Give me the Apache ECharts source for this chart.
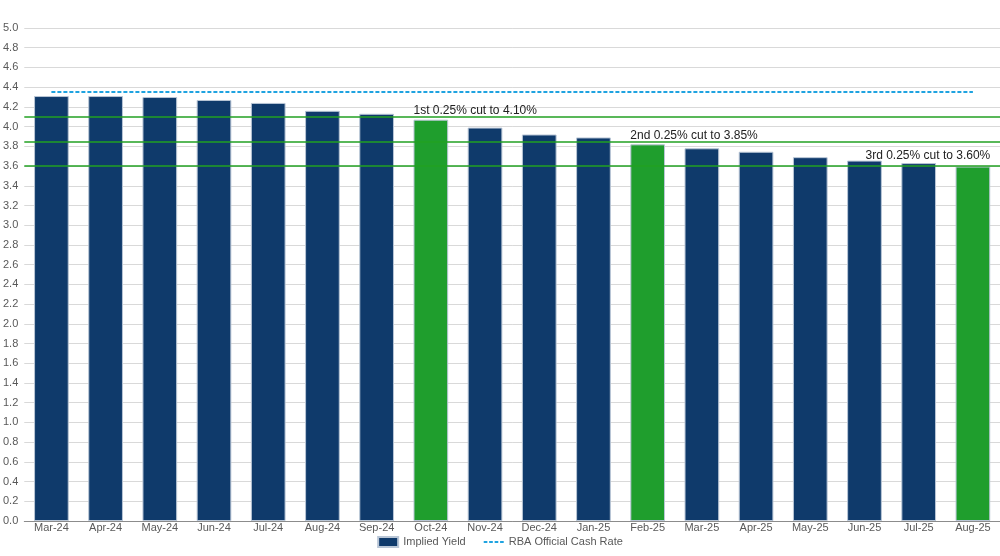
<!DOCTYPE html>
<html>
<head>
  <meta charset="utf-8">
  <script src="https://cdn.jsdelivr.net/npm/echarts@6/dist/echarts.min.js"></script>
  <style>
    html, body { margin: 0; padding: 0; background: #fff; }
    #main { width: 1000px; height: 556px; }
  </style>
</head>
<body>
<div id="main"></div>
<script>
  // chart data
  var months = ['Mar-24', 'Apr-24', 'May-24', 'Jun-24', 'Jul-24', 'Aug-24', 'Sep-24', 'Oct-24', 'Nov-24',
                'Dec-24', 'Jan-25', 'Feb-25', 'Mar-25', 'Apr-25', 'May-25', 'Jun-25', 'Jul-25', 'Aug-25'];
  var impliedYield = [4.31, 4.31, 4.30, 4.27, 4.24, 4.16, 4.13, 4.07, 3.99,
                      3.92, 3.89, 3.82, 3.78, 3.745, 3.69, 3.655, 3.63, 3.595];
  var cashRate = [4.35, 4.35, 4.35, 4.35, 4.35, 4.35, 4.35, 4.35, 4.35,
                  4.35, 4.35, 4.35, 4.35, 4.35, 4.35, 4.35, 4.35, 4.35];
  var cutMonths = ['Oct-24', 'Feb-25', 'Aug-25'];
  var cutLevels = [4.10, 3.85, 3.60];
  var cutLabels = ['1st 0.25% cut to 4.10%', '2nd 0.25% cut to 3.85%', '3rd 0.25% cut to 3.60%'];

  var navy = '#0f3a6b';
  var green = '#1f9e2d';
  var blue = '#1fa3e0';

  var barData = impliedYield.map(function (v, i) {
    var k = cutMonths.indexOf(months[i]);
    if (k < 0) return v;
    var last = k === cutMonths.length - 1;
    return {
      value: v,
      itemStyle: { color: green },
      label: {
        show: true,
        formatter: cutLabels[k],
        position: last ? ['100%', -11] : [0, -9],
        align: last ? 'right' : 'left',
        verticalAlign: 'middle',
        color: '#222',
        fontSize: 12,
        fontFamily: 'Liberation Sans, Arial, sans-serif'
      }
    };
  });

  var chart = echarts.init(document.getElementById('main'));
  chart.setOption({
    animation: false,
    textStyle: { fontFamily: 'Liberation Sans, Arial, sans-serif' },
    grid: { left: 22, right: 0, top: 28, bottom: 35 },
    legend: {
      bottom: 3,
      left: 'center',
      itemGap: 18,
      itemWidth: 20,
      itemHeight: 10,
      textStyle: { color: '#595959', fontSize: 11 },
      data: [
        { name: 'Implied Yield', icon: 'rect' },
        { name: 'RBA Official Cash Rate',
          icon: 'path://M0,0h4v2h-4z M6,0h4v2h-4z M12,0h4v2h-4z M18,0h4v2h-4z',
          itemStyle: { color: blue } }
      ]
    },
    xAxis: {
      type: 'category',
      data: months,
      axisTick: { show: false },
      axisLine: { lineStyle: { color: '#8c8c8c', width: 1 } },
      axisLabel: { color: '#595959', fontSize: 11, margin: 1, interval: 0 }
    },
    yAxis: {
      type: 'value',
      min: 0,
      max: 5,
      interval: 0.2,
      axisLine: { show: false },
      axisTick: { show: false },
      splitLine: { lineStyle: { color: '#d9d9d9' } },
      axisLabel: {
        color: '#595959', fontSize: 11, margin: 6,
        formatter: function (v) { return v.toFixed(1); }
      }
    },
    series: [
      {
        name: 'Implied Yield',
        type: 'bar',
        data: barData,
        barCategoryGap: '36%',
        itemStyle: { color: navy, borderColor: '#b9c6d6', borderWidth: 1 },
        markLine: {
          silent: true,
          symbol: 'none',
          label: { show: false },
          lineStyle: { color: '#22a022', type: 'solid', width: 1.5 },
          data: cutLevels.map(function (v) { return { yAxis: v }; })
        }
      },
      {
        name: 'RBA Official Cash Rate',
        type: 'line',
        data: cashRate,
        symbol: 'none',
        itemStyle: { color: blue },
        lineStyle: { color: blue, type: [4, 2], width: 2 }
      }
    ]
  });
</script>
</body>
</html>
